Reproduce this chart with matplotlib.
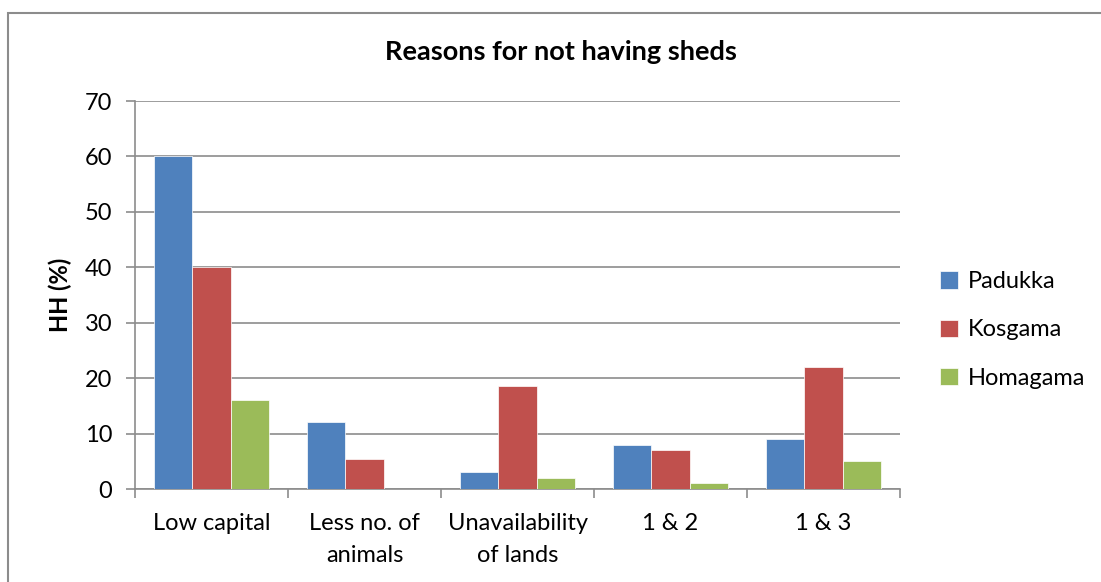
import numpy as np
import matplotlib.pyplot as plt
from matplotlib.patches import Rectangle

categories = ['Low capital', 'Less no. of\nanimals', 'Unavailability\nof lands', '1 & 2', '1 & 3']
padukka = [60, 12, 3, 8, 9]
kosgama = [40, 5.5, 18.5, 7, 22]
homagama = [16, 0, 2, 1, 5]
series = ['Padukka', 'Kosgama', 'Homagama']
colors = ['#4f81bd', '#c0504d', '#9bbb59']

plt.rcParams['font.family'] = ['Lato', 'DejaVu Sans']

fig = plt.figure(figsize=(11.01, 5.82), dpi=100)
# outer chart border (runs past right and bottom edges)
fig.patches.append(Rectangle((8 / 1101, -0.05), 1.1, 1.05 - 12.5 / 582,
                             transform=fig.transFigure, fill=False,
                             edgecolor='#8c8c8c', linewidth=1.5))
ax = fig.add_axes([135 / 1101, 1 - 489 / 582, (900 - 135) / 1101, (489 - 101) / 582])

x = np.arange(len(categories))
w = 0.25
for i, (vals, name) in enumerate(zip([padukka, kosgama, homagama], series)):
    ax.bar(x + (i - 1) * w, vals, width=w, color=colors[i], label=name,
           edgecolor='white', linewidth=0.5, zorder=3)

ax.set_xlim(-0.5, len(categories) - 0.5)
ax.set_ylim(0, 70)
ax.set_yticks(range(0, 71, 10))
ax.yaxis.grid(True, color='#8c8c8c', linewidth=1.2, zorder=0)
ax.set_xticks(np.arange(-0.5, len(categories), 1), minor=False)
ax.set_xticklabels([])
ax.set_xticks(x, minor=True)
ax.set_xticklabels(categories, minor=True, fontsize=17, linespacing=1.65)
ax.tick_params(axis='x', which='minor', length=0, pad=17)
ax.tick_params(axis='x', which='major', length=6.5, color='#8c8c8c', width=1.2)
ax.tick_params(axis='y', length=6.5, color='#8c8c8c', width=1.2, labelsize=17, pad=10)
for s in ['top', 'right']:
    ax.spines[s].set_visible(False)
for s in ['left', 'bottom']:
    ax.spines[s].set_color('#8c8c8c')
    ax.spines[s].set_linewidth(1.2)

ax.set_ylabel('HH (%)', fontsize=17, fontweight='bold')
ax.yaxis.set_label_coords(-0.098, 0.5)
ax.yaxis.label.set_va('center')
fig.text(561 / 1101, 1 - 52 / 582, 'Reasons for not having sheds', ha='center', va='center',
         fontsize=19.5, fontweight='bold')

ax.legend(loc='center left', bbox_to_anchor=(1.025, 0.41), frameon=False, fontsize=17,
          handlelength=0.75, handleheight=0.75, labelspacing=1.15, handletextpad=0.4)

fig.savefig('out.png', dpi=100)
